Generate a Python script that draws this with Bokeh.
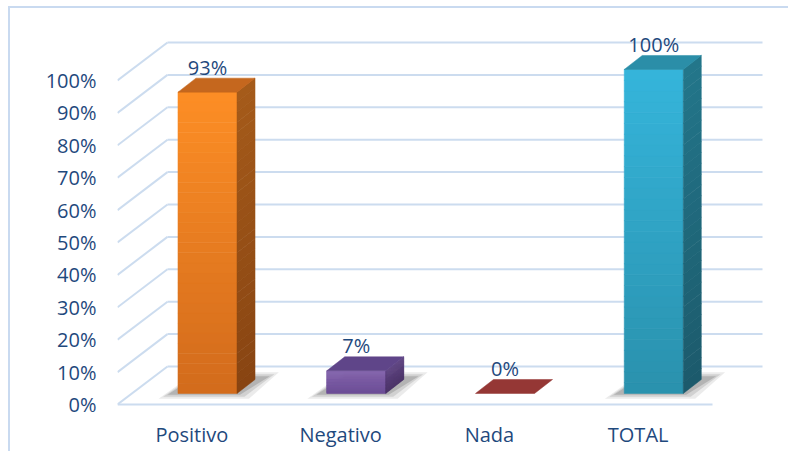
from bokeh.plotting import figure
from bokeh.models import Range1d, FixedTicker, ColumnDataSource
from bokeh.embed import file_html
from bokeh.resources import INLINE
from bokeh.core.properties import value

# ---------------- data ----------------
categories = ["Positivo", "Negativo", "Nada", "TOTAL"]
values = [93, 7, 0, 100]
value_labels = ["93%", "7%", "0%", "100%"]
y_ticks = [0, 10, 20, 30, 40, 50, 60, 70, 80, 90, 100]
y_tick_labels = ["0%", "10%", "20%", "30%", "40%", "50%", "60%", "70%", "80%", "90%", "100%"]

# ---------------- styles ----------------
FONT = "Open Sans"
TEXT_COLOR = "#1F497D"
GRID_COLOR = "#CCDCEF"
front_top = ["#FD8E25", "#8262AC", "#953735", "#35B5DB"]
front_bot = ["#D26B1C", "#6C4D96", "#953735", "#2A91AD"]
side_top = ["#A65B1A", "#5B407F", "#953735", "#23768B"]
side_bot = ["#874412", "#4A3267", "#953735", "#1C5A6B"]
top_col = ["#C5671E", "#5F4589", "#953735", "#2B8EA8"]

# depth of the 3-D box (x in category units, y in percent units)
DX, DY = 0.336, 11.73
# bar geometry
BX, BY, BW, BDX, BDY = 0.105, 3.4, 0.397, 0.121, 4.32

W, H = 780, 445
p = figure(width=W, height=H, output_backend="svg", toolbar_location=None,
           x_range=Range1d(-0.5, 3.957), y_range=Range1d(-1.852, 115.43),
           min_border_left=107, min_border_right=10, min_border_top=22,
           min_border_bottom=43)
p.styles = {"margin-left": "8px", "margin-top": "6px",
            "border-left": "2px solid #C9DAF0", "border-top": "2px solid #C9DAF0"}
p.outline_line_color = None
p.xgrid.visible = False
p.ygrid.visible = False
p.background_fill_color = "white"
p.border_fill_color = "white"

# ---------------- walls ----------------
back_xs = [[-0.5 + DX, 3.5 + DX] for t in y_ticks]
back_ys = [[t + DY, t + DY] for t in y_ticks]
side_xs = [[-0.5, -0.5 + DX] for t in y_ticks]
side_ys = [[t, t + DY] for t in y_ticks]
p.multi_line(back_xs + side_xs, back_ys + side_ys, line_color=GRID_COLOR, line_width=2)
p.line([-0.5, 3.5], [0, 0], line_color=GRID_COLOR, line_width=2)

# ---------------- shadows ----------------
for i, v in enumerate(values):
    if v <= 0:
        continue
    x0 = i + BX - BW / 2
    x1 = i + BX + BW / 2
    for k, a in enumerate([0.10, 0.14, 0.20]):
        g = (2 - k) * 0.03
        gy = (2 - k) * 0.6
        xs = [x0 - 0.07 - g, x1 + 0.02 + g, x1 + BDX + 0.10 + g, x0 + BDX]
        ys = [BY - 0.4 - gy, BY - 0.4 - gy, BY + BDY + 1.0 + gy, BY + BDY + 1.0 + gy]
        p.patch(xs, ys, fill_color="#3A3A3A", fill_alpha=a, line_color=None)


def lerp(c1, c2, t):
    a = [int(c1[j:j + 2], 16) for j in (1, 3, 5)]
    b = [int(c2[j:j + 2], 16) for j in (1, 3, 5)]
    return "#%02x%02x%02x" % tuple(int(round(a[m] + (b[m] - a[m]) * t)) for m in range(3))


# ---------------- bars ----------------
N = 30
q = dict(left=[], right=[], bottom=[], top=[], color=[])
sx, sy, sc = [], [], []
tx, ty, tc = [], [], []
for i, v in enumerate(values):
    x0 = i + BX - BW / 2
    x1 = i + BX + BW / 2
    if v > 0:
        for k in range(N):
            t = (k + 0.5) / N
            q["left"].append(x0)
            q["right"].append(x1)
            q["bottom"].append(BY + v * k / N)
            q["top"].append(BY + v * (k + 1) / N + 0.05)
            q["color"].append(lerp(front_bot[i], front_top[i], t))
            yb = BY + v * k / N
            yt = BY + v * (k + 1) / N + 0.05
            sx.append([x1, x1 + BDX, x1 + BDX, x1])
            sy.append([yb, yb + BDY, yt + BDY, yt])
            sc.append(lerp(side_bot[i], side_top[i], t))
    tx.append([x0, x1, x1 + BDX, x0 + BDX])
    ty.append([BY + v, BY + v, BY + v + BDY, BY + v + BDY])
    tc.append(top_col[i])

p.quad(source=ColumnDataSource(q), left="left", right="right", bottom="bottom",
       top="top", fill_color="color", line_color="color", line_width=0.5)
p.patches(sx, sy, fill_color=sc, line_color=sc, line_width=0.5)
p.patches(tx, ty, fill_color=tc, line_color=tc, line_width=0.5)

# ---------------- data labels ----------------
lab = ColumnDataSource(dict(
    x=[i + BX for i in range(len(values))],
    y=[v + BY + BDY + 3.4 for v in values],
    text=value_labels))
p.text(x="x", y="y", text="text", source=lab, text_align="center",
       text_baseline="middle", text_font=value(FONT), text_font_size="20px",
       text_color=TEXT_COLOR)

# ---------------- axes ----------------
p.yaxis.ticker = FixedTicker(ticks=y_ticks)
p.yaxis.major_label_overrides = {t: l for t, l in zip(y_ticks, y_tick_labels)}
p.xaxis.ticker = FixedTicker(ticks=list(range(len(categories))))
p.xaxis.major_label_overrides = {i: c for i, c in enumerate(categories)}
for ax in (p.xaxis, p.yaxis):
    ax.axis_line_color = None
    ax.major_tick_line_color = None
    ax.minor_tick_line_color = None
    ax.major_tick_out = 0
    ax.major_tick_in = 0
    ax.major_label_text_font = FONT
    ax.major_label_text_font_size = "20px"
    ax.major_label_text_color = TEXT_COLOR
p.yaxis.major_label_standoff = 21
p.xaxis.major_label_standoff = 10

open("out.html", "w").write(file_html(p, INLINE))
